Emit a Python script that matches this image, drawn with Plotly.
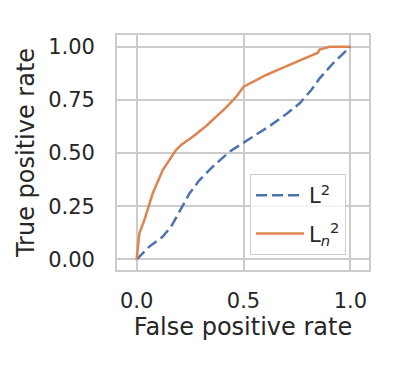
import plotly.graph_objects as go

fpr_l2 = [0, 0.059, 0.122, 0.161, 0.2, 0.247, 0.294, 0.356, 0.434, 0.5, 0.559, 0.622, 0.7, 0.7625, 0.817, 0.856, 0.919, 0.966, 1.0]
tpr_l2 = [0, 0.06, 0.107, 0.154, 0.224, 0.31, 0.373, 0.436, 0.506, 0.549, 0.585, 0.627, 0.683, 0.734, 0.796, 0.851, 0.922, 0.969, 1.0]

fpr_ln2 = [0, 0.0125, 0.036, 0.075, 0.122, 0.184, 0.208, 0.2625, 0.325, 0.372, 0.419, 0.466, 0.5, 0.544, 0.606, 0.677, 0.747, 0.825, 0.848, 0.856, 0.903, 1.0]
tpr_ln2 = [0, 0.122, 0.185, 0.31, 0.42, 0.514, 0.538, 0.577, 0.627, 0.671, 0.715, 0.765, 0.812, 0.835, 0.867, 0.898, 0.929, 0.961, 0.972, 0.987, 1.0, 1.0]

x_ticks = [0.0, 0.5, 1.0]
x_tick_labels = ["0.0", "0.5", "1.0"]
y_ticks = [0.0, 0.25, 0.5, 0.75, 1.0]
y_tick_labels = ["0.00", "0.25", "0.50", "0.75", "1.00"]

fig = go.Figure()
fig.add_trace(go.Scatter(x=fpr_l2, y=tpr_l2, mode="lines", name="L<sup>2</sup>", legendgroup="a",
                         line=dict(color="#4c72b0", width=2.5, dash="11px,5px")))
fig.add_trace(go.Scatter(x=fpr_ln2, y=tpr_ln2, mode="lines", name="L<sub><i>n</i></sub><sup>2</sup>", legendgroup="b",
                         line=dict(color="#dd8452", width=2.5)))

axis_common = dict(showgrid=True, gridcolor="#cccccc", gridwidth=1.5, zeroline=False,
                   showline=True, linecolor="#cccccc", linewidth=1.8, mirror=True,
                   tickfont=dict(size=21, color="#262626"), ticks="")
fig.update_xaxes(range=[-0.092, 1.087], tickvals=x_ticks, ticktext=x_tick_labels,
                 title=dict(text="False positive rate", font=dict(size=24, color="#262626"), standoff=6),
                 ticklabelstandoff=11, **axis_common)
fig.update_yaxes(range=[-0.05, 1.055], tickvals=y_ticks, ticktext=y_tick_labels,
                 title=dict(text="True positive rate", font=dict(size=24, color="#262626"), standoff=7),
                 ticklabelstandoff=16, **axis_common)

fig.update_layout(
    width=405, height=375,
    margin=dict(l=117, r=36, t=35, b=105),
    paper_bgcolor="white", plot_bgcolor="white",
    font=dict(family="DejaVu Sans", color="#262626"),
    legend=dict(x=0.528, y=0.408, xanchor="left", yanchor="top", itemwidth=48,
                tracegroupgap=8,
                bgcolor="rgba(255,255,255,0.8)", bordercolor="#cccccc", borderwidth=1,
                font=dict(size=21, color="#262626")),
)
fig.write_html("out.html")
